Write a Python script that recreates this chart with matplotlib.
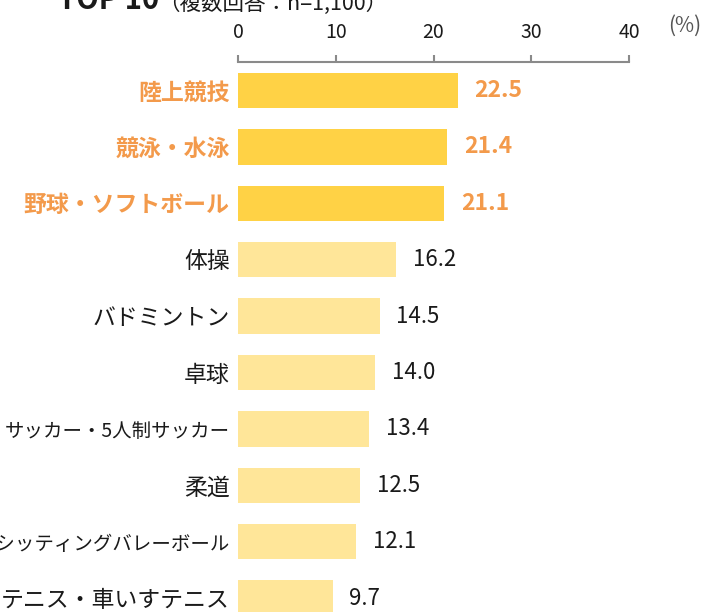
import matplotlib
matplotlib.use("Agg")
import matplotlib.pyplot as plt

plt.rcParams['font.family'] = ['Noto Sans CJK JP', 'DejaVu Sans']

categories = ["陸上競技", "競泳・水泳", "野球・ソフトボール", "体操", "バドミントン",
              "卓球", "サッカー・5人制サッカー", "柔道",
              "バレーボール・シッティングバレーボール", "テニス・車いすテニス"]
values = [22.5, 21.4, 21.1, 16.2, 14.5, 14.0, 13.4, 12.5, 12.1, 9.7]
highlight = [True, True, True, False, False, False, False, False, False, False]
xticks = [0, 10, 20, 30, 40]
title_main = "TOP 10"
title_sub = "（複数回答：n=1,100）"
unit = "(%)"

W, H = 702, 612
fig = plt.figure(figsize=(W / 100, H / 100), dpi=100)

x0, x40 = 238, 629
ytop, ybot = 62, 612
ax = fig.add_axes([x0 / W, 1 - ybot / H, (x40 - x0) / W, (ybot - ytop) / H])

c0, pitch = 90.5, 56.4
ax.set_ylim((ybot - c0) / pitch, -(c0 - ytop) / pitch)
ax.set_xlim(0, 40)

dark, light = "#FFD245", "#FFE699"
orange = "#F39A4B"
txt = "#1a1a1a"
colors = [dark if h else light for h in highlight]
ys = list(range(len(values)))
ax.barh(ys, values, height=0.63, color=colors, edgecolor='none')

for y, v, h in zip(ys, values, highlight):
    ax.annotate(f"{v:.1f}", (v, y), xytext=(12, 0), textcoords='offset points',
                ha='left', va='center', fontsize=16.5 if h else 16,
                color=orange if h else txt,
                fontweight='bold' if h else 'normal')

ax.set_yticks(ys)
ax.set_yticklabels(categories, fontsize=16.5)
for lbl, h in zip(ax.get_yticklabels(), highlight):
    if h:
        lbl.set_color(orange)
        lbl.set_fontweight('bold')
    else:
        lbl.set_color(txt)
    if len(lbl.get_text()) > 10:
        lbl.set_fontsize(14)
ax.tick_params(axis='y', length=0, pad=6)

ax.xaxis.set_ticks_position('top')
ax.xaxis.set_label_position('top')
ax.set_xticks(xticks)
ax.set_xticklabels([str(t) for t in xticks], fontsize=14, color=txt)
ax.tick_params(axis='x', direction='out', length=5, width=1.5, color="#8a8a8a", pad=9)

for s in ['right', 'bottom', 'left']:
    ax.spines[s].set_visible(False)
ax.spines['top'].set_color("#8a8a8a")
ax.spines['top'].set_linewidth(1.5)
ax.set_facecolor('none')

fig.text(58 / W, 1 - 9 / H, title_main, fontsize=21, fontweight='bold',
         color=txt, ha='left', va='baseline')
fig.text(158 / W, 1 - 10 / H, title_sub, fontsize=15.5, color=txt,
         ha='left', va='baseline')
fig.text(701 / W, 1 - 26 / H, unit, fontsize=15, color="#555555",
         ha='right', va='center')

fig.savefig("out.png", dpi=100)
